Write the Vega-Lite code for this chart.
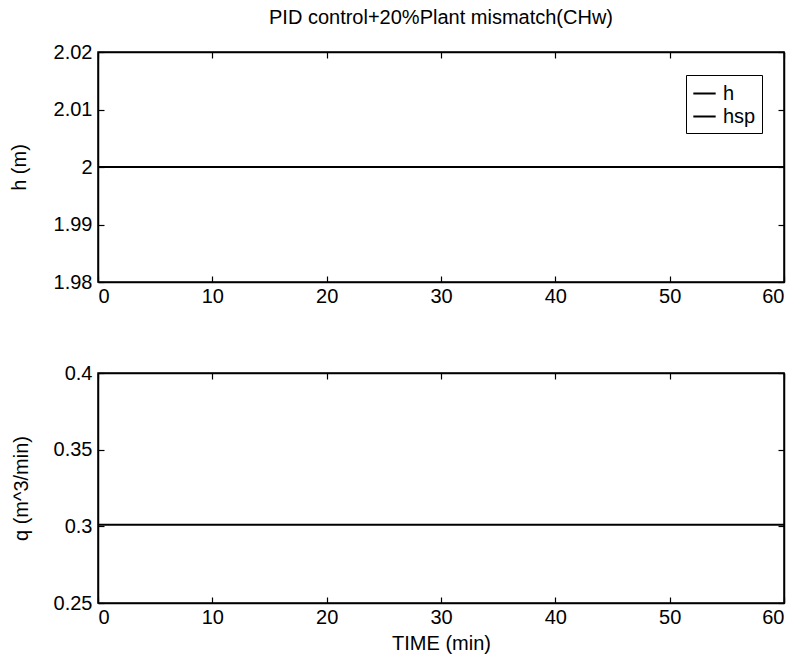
{
  "$schema": "https://vega.github.io/schema/vega-lite/v6.json",
  "background": "white",
  "padding": {"left": 8, "top": 7, "right": 5, "bottom": 5},
  "spacing": 91,
  "bounds": "flush",
  "config": {
    "font": "Liberation Sans",
    "view": {"stroke": "black", "strokeWidth": 1.5},
    "axis": {
      "domainColor": "black", "domainWidth": 1.5,
      "tickColor": "black", "tickSize": -6, "tickWidth": 1.2,
      "labelColor": "black", "labelFont": "Liberation Sans", "labelFontSize": 20,
      "titleColor": "black", "titleFont": "Liberation Sans", "titleFontSize": 20, "titleFontWeight": "normal",
      "grid": false, "labelPadding": 10
    },
    "legend": {
      "labelFont": "Liberation Sans", "labelFontSize": 20, "labelColor": "black"
    }
  },
  "datasets": {
    "top": [
      {"t": 0, "v": 2.0, "series": "h"},
      {"t": 60, "v": 2.0, "series": "h"},
      {"t": 0, "v": 2.0, "series": "hsp"},
      {"t": 60, "v": 2.0, "series": "hsp"}
    ],
    "bottom": [
      {"t": 0, "q": 0.301},
      {"t": 60, "q": 0.301}
    ]
  },
  "vconcat": [
    {
      "width": 686,
      "height": 230,
      "title": {"text": "PID control+20%Plant mismatch(CHw)", "fontSize": 20, "fontWeight": "normal", "color": "black", "anchor": "middle", "offset": 14},
      "data": {"name": "top"},
      "layer": [
        {
          "mark": {"type": "line", "strokeWidth": 2},
          "encoding": {
            "x": {"field": "t", "type": "quantitative", "scale": {"domain": [0, 60], "nice": false},
                  "axis": {"values": [0, 10, 20, 30, 40, 50, 60], "title": null}},
            "y": {"field": "v", "type": "quantitative", "scale": {"domain": [1.98, 2.02], "nice": false, "zero": false},
                  "axis": {"values": [1.98, 1.99, 2, 2.01, 2.02], "format": "~g", "title": "h (m)", "titlePadding": 24, "labelPadding": 12}},
            "color": {"field": "series", "type": "nominal",
                      "scale": {"domain": ["h", "hsp"], "range": ["black", "black"]},
                      "legend": {"orient": "none", "legendX": 588, "legendY": 23, "title": null,
                                 "symbolType": "stroke", "symbolSize": 500, "symbolStrokeWidth": 2,
                                 "strokeColor": "black", "fillColor": "white", "padding": 6, "rowPadding": -4,
                                 "labelOffset": 6}}
          }
        },
        {
          "mark": {"type": "line", "strokeOpacity": 0},
          "encoding": {
            "x": {"field": "t", "type": "quantitative",
                  "axis": {"orient": "top", "values": [0, 10, 20, 30, 40, 50, 60], "labels": false, "title": null}},
            "y": {"field": "v", "type": "quantitative",
                  "axis": {"orient": "right", "values": [1.98, 1.99, 2, 2.01, 2.02], "labels": false, "title": null}}
          }
        }
      ],
      "resolve": {"axis": {"x": "independent", "y": "independent"}}
    },
    {
      "width": 686,
      "height": 230,
      "data": {"name": "bottom"},
      "layer": [
        {
          "mark": {"type": "line", "strokeWidth": 2, "color": "black"},
          "encoding": {
            "x": {"field": "t", "type": "quantitative", "scale": {"domain": [0, 60], "nice": false},
                  "axis": {"values": [0, 10, 20, 30, 40, 50, 60], "title": "TIME (min)", "titlePadding": 6}},
            "y": {"field": "q", "type": "quantitative", "scale": {"domain": [0.25, 0.4], "nice": false, "zero": false},
                  "axis": {"values": [0.25, 0.3, 0.35, 0.4], "format": "~g", "title": "q (m^3/min)", "titlePadding": 22, "labelPadding": 12}}
          }
        },
        {
          "mark": {"type": "line", "strokeOpacity": 0},
          "encoding": {
            "x": {"field": "t", "type": "quantitative",
                  "axis": {"orient": "top", "values": [0, 10, 20, 30, 40, 50, 60], "labels": false, "title": null}},
            "y": {"field": "q", "type": "quantitative",
                  "axis": {"orient": "right", "values": [0.25, 0.3, 0.35, 0.4], "labels": false, "title": null}}
          }
        }
      ],
      "resolve": {"axis": {"x": "independent", "y": "independent"}}
    }
  ]
}
